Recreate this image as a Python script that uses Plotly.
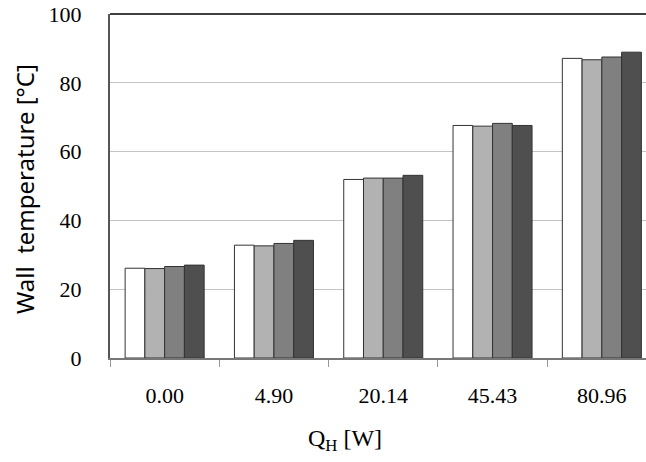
import plotly.graph_objects as go

categories = ["0.00", "4.90", "20.14", "45.43", "80.96"]
series_a = [26.1, 32.8, 51.9, 67.6, 87.1]
series_b = [26.0, 32.6, 52.3, 67.4, 86.7]
series_c = [26.6, 33.3, 52.3, 68.2, 87.5]
series_d = [27.0, 34.2, 53.1, 67.6, 88.9]
colors = ["#ffffff", "#b2b2b2", "#808080", "#4f4f4f"]
y_ticks = [0, 20, 40, 60, 80, 100]

SERIF = "Liberation Serif, Times New Roman, serif"

fig = go.Figure()
for vals, c in zip([series_a, series_b, series_c, series_d], colors):
    fig.add_trace(go.Bar(x=categories, y=vals, marker=dict(color=c, line=dict(color="#333333", width=1)),
                         showlegend=False))

W, H = 646, 462
ml, mt, mb, mr = 110, 14, 104, 0
pw = W - ml - mr
ph = H - mt - mb
cat_px = 109.3
xr_end = -0.5 + pw / cat_px

fig.update_layout(
    width=W, height=H,
    margin=dict(l=ml, r=mr, t=mt, b=mb),
    paper_bgcolor="white", plot_bgcolor="white",
    barmode="group", bargap=0.277, bargroupgap=0,
    xaxis=dict(type="category", range=[-0.5, xr_end], showline=True, linecolor="#777777", linewidth=2,
               ticks="outside", tickson="boundaries", ticklen=7, tickcolor="#999999", tickwidth=1,
               showgrid=False,
               tickfont=dict(family=SERIF, size=22, color="black"), ticklabelstandoff=17),
    yaxis=dict(range=[0, 100], tickvals=y_ticks, showline=True, linecolor="#555555", linewidth=2,
               showgrid=True, gridcolor="#c4c4c4", gridwidth=1, zeroline=False,
               ticks="", tickfont=dict(family=SERIF, size=22, color="black"),
               ticklabelstandoff=22),
    shapes=[dict(type="line", xref="paper", yref="paper", x0=0, x1=1, y0=1, y1=1,
                 line=dict(color="#404040", width=2))],
    annotations=[
        dict(text="Wall  temperature [°C]", xref="paper", yref="paper",
             x=(24 - ml) / pw, y=(H - mb - 189) / ph, textangle=-90, showarrow=False,
             xanchor="center", yanchor="middle",
             font=dict(family="Noto Sans", size=24, color="black")),
        dict(text="Q<sub>H</sub> [W]", xref="paper", yref="paper",
             x=(345 - ml) / pw, y=-(440 - (H - mb)) / ph, showarrow=False,
             xanchor="center", yanchor="middle",
             font=dict(family=SERIF, size=24, color="black")),
    ],
)

fig.write_html("out.html")
